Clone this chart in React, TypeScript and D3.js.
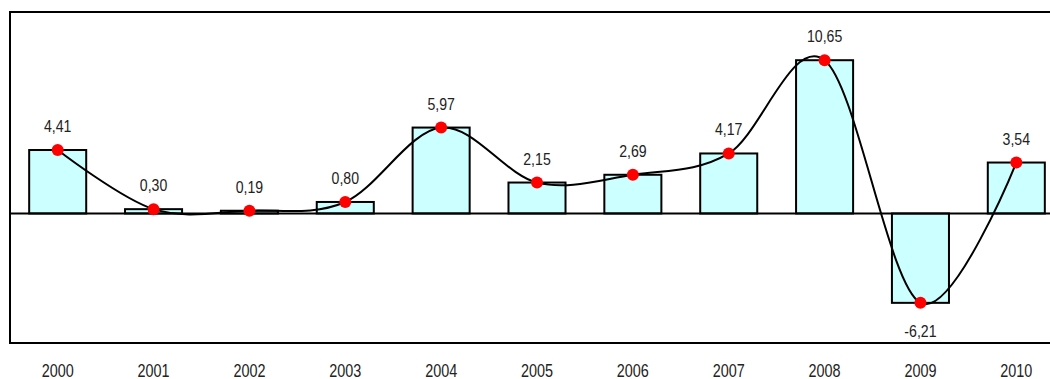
import React from "react";
import * as d3 from "d3";

const years = ["2000","2001","2002","2003","2004","2005","2006","2007","2008","2009","2010"];
const values = [4.41, 0.30, 0.19, 0.80, 5.97, 2.15, 2.69, 4.17, 10.65, -6.21, 3.54];
const yDomain = [-9, 14];

const W = 1050, H = 379;
const left = 10, right = 1064, top = 12, bottom = 343;
const font = "'Liberation Sans', Arial, sans-serif";

export default function App() {
  const x = d3.scaleBand<string>().domain(years).range([left, right]).paddingInner(0.405).paddingOuter(0.2);
  const y = d3.scaleLinear().domain(yDomain).range([bottom, top]);
  const cx = (d: string) => (x(d) as number) + x.bandwidth() / 2;
  const pts: [number, number][] = years.map((d, i) => [cx(d), y(values[i])]);
  const line = d3.line().curve(d3.curveCardinal.tension(0))(pts) as string;
  const fmt = (v: number) => v.toFixed(2).replace(".", ",");
  return (
    <svg width={W} height={H} style={{ position: "absolute", left: 0, top: 0, display: "block", background: "#fff" }}>
      {years.map((d, i) => {
        const v = values[i];
        const y0 = y(0), y1 = y(v);
        return (
          <rect key={d} x={x(d)} y={Math.min(y0, y1)} width={x.bandwidth()} height={Math.abs(y1 - y0)}
            fill="#CCFFFF" stroke="#000" strokeWidth={2} />
        );
      })}
      <line x1={left} x2={right} y1={y(0)} y2={y(0)} stroke="#000" strokeWidth={2} />
      <path d={`M${left},${bottom}V${top}H${right}V${bottom}Z`} fill="none" stroke="#000" strokeWidth={2} />
      <path d={line} fill="none" stroke="#000" strokeWidth={2} />
      {pts.map((p, i) => (
        <circle key={i} cx={p[0]} cy={p[1]} r={6} fill="#FF0000" />
      ))}
      {pts.map((p, i) => (
        <text key={"l" + i} transform={`translate(${p[0]},${values[i] >= 0 ? p[1] - 18 : p[1] + 34}) scale(0.83,1)`}
          textAnchor="middle" fontFamily={font} fontSize={17} fill="#222">{fmt(values[i])}</text>
      ))}
      {years.map((d) => (
        <text key={"y" + d} transform={`translate(${cx(d)},377) scale(0.8,1)`} textAnchor="middle"
          fontFamily={font} fontSize={18} fill="#222">{d}</text>
      ))}
    </svg>
  );
}
